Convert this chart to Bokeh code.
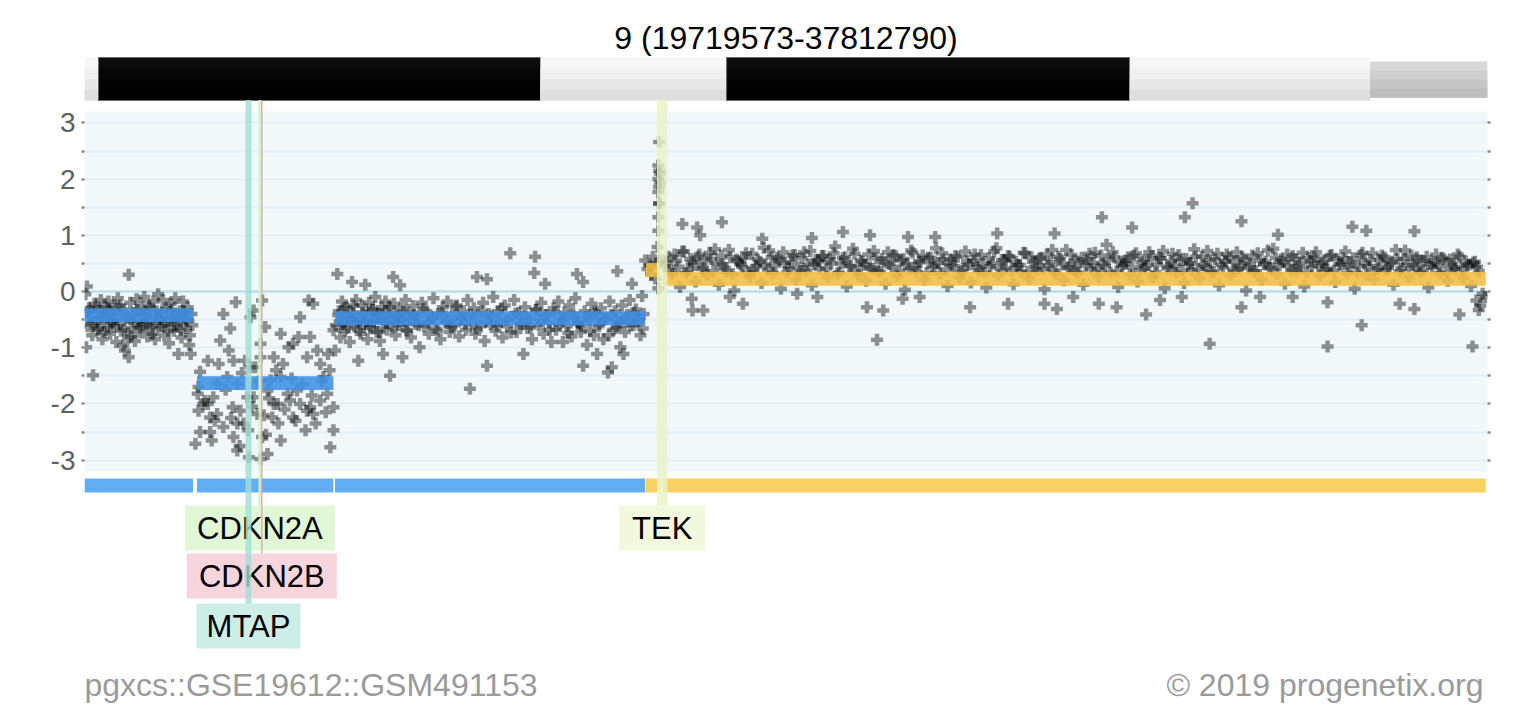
from bokeh.plotting import figure
from bokeh.models import Range1d, FixedTicker, LinearAxis, Grid, Span, Label
from bokeh.core.properties import value
from bokeh.embed import file_html
from bokeh.resources import INLINE

# ---------------------------------------------------------------- data
CHROM = "9"
START = 19719573
END = 37812790
SAMPLE_ID = "pgxcs::GSE19612::GSM491153"
CREDIT = "\u00a9 2019 progenetix.org"

# cytobands of the shown region (Mb)
band_start = [19.7196, 19.9, 25.6, 28.0, 33.2, 36.3]
band_end = [19.9, 25.6, 28.0, 33.2, 36.3, 37.8128]
band_stain = ["gneg", "gpos100", "gneg", "gpos100", "gneg", "gpos25"]

# CNV segments (Mb, log2 mean)
seg_start = [19.72, 21.17, 22.95, 26.96, 27.18]
seg_end = [21.12, 22.93, 26.95, 27.14, 37.79]
seg_mean = [-0.42, -1.63, -0.475, 0.38, 0.225]

# annotated genes (Mb)
gene_name = ["CDKN2A", "CDKN2B", "MTAP", "TEK"]
gene_start = [21.967751, 22.002902, 21.802543, 27.109141]
gene_end = [21.995300, 22.009312, 21.865970, 27.230174]

# probe log2 ratios, segment 1 (pter side, mild loss)
pos_a = [19.73, 19.74, 19.75, 19.76, 19.78, 19.80, 19.82, 19.83, 19.85, 19.87,
         19.89, 19.91, 19.93, 19.95, 19.97, 19.99, 20.01, 20.03, 20.05, 20.07,
         20.09, 20.11, 20.13, 20.15, 20.17, 20.19, 20.21, 20.22, 20.24, 20.26,
         20.28, 20.29, 20.29, 20.31, 20.33, 20.35, 20.37, 20.39, 20.41, 20.43,
         20.45, 20.47, 20.49, 20.51, 20.53, 20.55, 20.57, 20.59, 20.61, 20.63,
         20.65, 20.67, 20.69, 20.71, 20.73, 20.75, 20.77, 20.79, 20.81, 20.83,
         20.85, 20.87, 20.89, 20.91, 20.93, 20.95, 20.97, 20.99, 21.01, 21.03,
         21.05, 21.07, 21.09, 21.10, 21.11,
         19.77, 19.81, 19.86, 19.90, 19.94, 19.98, 20.02, 20.06, 20.10, 20.14,
         20.18, 20.23, 20.27, 20.32, 20.36, 20.40, 20.44, 20.48, 20.52, 20.56,
         20.60, 20.64, 20.68, 20.72, 20.76, 20.80, 20.84, 20.88, 20.92, 20.96,
         21.00, 21.04, 21.08]
lr_a = [-0.05, -0.99, 0.09, -0.62, -0.30, -0.45, -0.78, -1.49, -0.22, -0.55,
        -0.68, -0.35, -0.15, -0.85, -0.48, -0.28, -0.62, -0.18, -0.75, -0.40,
        -0.55, -0.25, -0.90, -0.12, -0.58, -0.70, -0.32, -0.96, -1.05, -0.45,
        -0.82, 0.30, -1.17, -0.20, -0.65, -0.38, -0.88, -0.14, -0.52, -0.72,
        -0.28, -0.60, -0.10, -0.42, -0.80, -0.25, -0.55, -0.66, -0.18, -0.85,
        -0.35, -0.05, -0.48, -0.62, -0.15, -0.78, -0.30, -0.52, -0.92, -0.22,
        -0.45, -0.70, -0.12, -0.58, -1.11, -0.35, -0.82, -0.18, -0.50, -0.65,
        -0.28, -0.95, -1.11, -0.40, -0.60,
        -0.35, -0.58, -0.28, -0.66, -0.45, -0.72, -0.30, -0.52, -0.62, -0.40,
        -0.25, -0.68, -0.48, -0.80, -0.55, -0.33, -0.64, -0.42, -0.58, -0.30,
        -0.75, -0.46, -0.62, -0.38, -0.55, -0.70, -0.32, -0.60, -0.45, -0.68,
        -0.36, -0.52, -0.78]

# segment 2 (deep loss around CDKN2A / CDKN2B / MTAP)
pos_b = [21.15, 21.18, 21.19, 21.19, 21.21, 21.21, 21.25, 21.27, 21.31, 21.31,
         21.34, 21.34, 21.36, 21.38, 21.40, 21.43, 21.43, 21.45, 21.47, 21.51,
         21.51, 21.54, 21.56, 21.58, 21.60, 21.61, 21.63, 21.64, 21.64, 21.67,
         21.69, 21.69, 21.69, 21.72, 21.73, 21.75, 21.77, 21.79, 21.82, 21.83,
         21.84, 21.86, 21.86, 21.88, 21.90, 21.90, 21.92, 21.95, 21.97, 21.99,
         21.99, 21.99, 22.01, 22.01, 22.03, 22.05, 22.06, 22.08, 22.08, 22.10,
         22.12, 22.14, 22.16, 22.16, 22.19, 22.21, 22.22, 22.25, 22.25, 22.25,
         22.28, 22.30, 22.34, 22.35, 22.37, 22.39, 22.41, 22.41, 22.44, 22.46,
         22.48, 22.50, 22.50, 22.53, 22.57, 22.59, 22.59, 22.61, 22.63, 22.63,
         22.65, 22.67, 22.67, 22.70, 22.72, 22.76, 22.76, 22.78, 22.80, 22.83,
         22.85, 22.86, 22.88, 22.89, 22.93, 22.93, 22.93]
lr_b = [-2.71, -1.82, -1.70, -2.12, -2.50, -1.43, -2.00, -1.95, -1.23, -2.00,
        -2.50, -2.24, -2.65, -1.88, -2.30, -2.18, -1.64, -1.29, -0.87, -2.41,
        -0.40, -1.75, -1.52, -1.05, -0.66, -2.25, -2.06, -1.23, -2.59, -0.19,
        -2.83, -2.35, -1.64, -2.75, -2.12, -1.45, -2.35, -1.23, -1.88, -2.47,
        -2.95, -0.46, -1.35, -2.05, -0.34, -1.88, -1.35, -2.18, -1.60, -1.17,
        -0.93, -2.98, -0.16, -2.59, -2.20, -0.63, -2.55, -2.89, -1.76, -1.90,
        -1.58, -2.24, -1.17, -2.00, -1.40, -2.00, -2.35, -2.65, -0.75, -1.52,
        -1.29, -2.10, -1.82, -0.99, -1.94, -1.55, -0.93, -2.24, -2.30, -1.76,
        -0.81, -0.46, -2.00, -1.65, -2.47, -1.17, -2.12, -0.16, -0.81, -2.06,
        -1.85, -0.22, -2.18, -2.35, -1.05, -1.29, -1.94, -1.60, -1.52, -2.15,
        -1.82, -1.11, -1.40, -2.77, -0.69, -2.06, -2.47]

# segment 3 (mild loss)
pos_c = [22.95, 22.96, 22.98, 23.00, 23.02, 23.04, 23.06, 23.08, 23.10, 23.12,
         23.14, 23.17, 23.18, 23.20, 23.22, 23.25, 23.26, 23.28, 23.30, 23.32,
         23.34, 23.35, 23.37, 23.39, 23.41, 23.43, 23.45, 23.47, 23.49, 23.51,
         23.53, 23.55, 23.57, 23.58, 23.60, 23.62, 23.64, 23.66, 23.68, 23.70,
         23.71, 23.73, 23.75, 23.77, 23.79, 23.80, 23.82, 23.84, 23.86, 23.88,
         23.90, 23.93, 23.96, 23.99, 24.02, 24.04, 24.07, 24.10, 24.13, 24.16,
         24.19, 24.22, 24.25, 24.28, 24.31, 24.34, 24.37, 24.40, 24.43, 24.46,
         24.49, 24.52, 24.55, 24.58, 24.61, 24.64, 24.66, 24.69, 24.71, 24.74,
         24.76, 24.78, 24.80, 24.83, 24.86, 24.88, 24.91, 24.91, 24.93, 24.96,
         24.99, 25.02, 25.05, 25.08, 25.11, 25.14, 25.17, 25.21, 25.23, 25.26,
         25.29, 25.32, 25.35, 25.38, 25.40, 25.43, 25.46, 25.49, 25.52, 25.53,
         25.55, 25.58, 25.61, 25.64, 25.66, 25.68, 25.71, 25.74, 25.77, 25.80,
         25.83, 25.86, 25.89, 25.91, 25.94, 25.97, 26.00, 26.03, 26.05, 26.07,
         26.09, 26.12, 26.15, 26.15, 26.17, 26.20, 26.23, 26.26, 26.29, 26.31,
         26.33, 26.35, 26.38, 26.41, 26.44, 26.47, 26.49, 26.52, 26.54, 26.56,
         26.59, 26.60, 26.63, 26.65, 26.67, 26.69, 26.72, 26.75, 26.78, 26.80,
         26.83, 26.86, 26.89, 26.91, 26.93,
         22.99, 23.03, 23.07, 23.11, 23.15, 23.19, 23.23, 23.27, 23.31, 23.36,
         23.40, 23.44, 23.48, 23.52, 23.56, 23.61, 23.65, 23.69, 23.74, 23.78,
         23.83, 23.87, 23.92, 23.97, 24.03, 24.09, 24.15, 24.21, 24.27, 24.33,
         24.39, 24.45, 24.51, 24.57, 24.63, 24.70, 24.77, 24.84, 24.90, 24.97,
         25.04, 25.10, 25.16, 25.22, 25.28, 25.34, 25.41, 25.47, 25.54, 25.60,
         25.66, 25.72, 25.78, 25.84, 25.90, 25.96, 26.02, 26.08, 26.13, 26.19,
         26.24, 26.30, 26.36, 26.42, 26.48, 26.53, 26.58, 26.64, 26.70, 26.76,
         26.81, 26.87, 26.92]
lr_c = [-1.05, -0.60, 0.31, -0.35, -0.82, -0.18, -0.55, -0.70, -0.28, -0.45,
        -0.90, 0.17, -0.38, -0.62, -0.15, -1.23, -0.50, -0.75, -0.25, -0.58,
        0.12, -0.42, -0.85, -0.20, -0.65, -0.32, -0.52, -0.10, -0.72, -0.40,
        -0.88, -0.28, -1.11, -0.55, -0.18, -0.68, -0.36, -1.50, -0.48, 0.26,
        -0.22, -0.78, -0.44, -0.60, 0.11, -0.30, -1.17, -0.52, -0.15, -0.70,
        -0.38, -0.82, -0.26, -0.58, -0.45, -0.99, -0.20, -0.62, -0.35, -0.75,
        -0.50, -0.12, -0.66, -0.40, -0.85, -0.28, -0.55, -0.18, -0.72, -0.42,
        -0.60, -0.25, -0.80, -0.48, -0.35, -0.68, -0.15, -1.73, -0.52, -0.30,
        -0.75, 0.26, -0.45, -0.62, -0.20, -0.88, 0.22, -1.32, -0.40, -0.58,
        -0.10, -0.70, -0.35, -0.52, -0.82, -0.25, -0.62, 0.68, -0.45, -0.15,
        -0.72, -0.38, -0.58, -1.11, -0.28, -0.65, -0.48, -0.85, 0.33, 0.62,
        -0.32, -0.60, -0.20, -0.75, 0.14, -0.42, -0.55, -0.90, -0.30, -0.68,
        -0.18, -0.50, -0.90, -0.38, -0.62, -0.25, -0.80, -0.45, -0.12, 0.31,
        -0.58, -0.72, 0.17, -1.32, -0.35, -0.95, -0.50, -0.22, -0.78, -0.40,
        -1.11, -0.62, -0.30, -0.85, -0.48, -1.44, -0.18, -1.35, -0.68, -0.35,
        0.36, -0.55, -0.99, -0.25, -1.11, -0.72, -0.42, -0.15, 0.14, -0.60,
        -0.32, -0.50, -0.78, -0.08, -0.40,
        -0.42, -0.58, -0.30, -0.65, -0.48, -0.25, -0.55, -0.70, -0.38, -0.52,
        -0.62, -0.33, -0.47, -0.72, -0.40, -0.56, -0.28, -0.64, -0.45, -0.53,
        -0.36, -0.68, -0.50, -0.42, -0.60, -0.31, -0.55, -0.46, -0.70, -0.38,
        -0.52, -0.63, -0.27, -0.48, -0.58, -0.41, -0.66, -0.35, -0.54, -0.44,
        -0.61, -0.30, -0.50, -0.73, -0.39, -0.57, -0.46, -0.64, -0.33, -0.52,
        -0.42, -0.68, -0.37, -0.59, -0.48, -0.74, -0.40, -0.55, -0.62, -0.45,
        -0.70, -0.36, -0.58, -0.50, -0.78, -0.43, -0.65, -0.55, -0.47, -0.60,
        -0.38, -0.52, -0.66]

# short gain segment next to TEK
pos_e = [26.95, 26.98, 27.01, 27.03, 27.05, 27.08, 27.10, 27.12, 27.11, 27.12,
         27.12, 27.13, 27.12, 27.13, 27.12, 27.13, 27.12, 27.13, 27.14, 27.14,
         27.13, 27.14]
lr_e = [0.55, 0.40, 0.46, 0.30, 0.62, 0.23, 0.50, 0.06, 0.79, 1.08,
        1.32, 1.56, 1.77, 1.86, 2.00, 2.15, 2.24, 2.66, 2.10, 1.94,
        1.57, 0.55]

# long low-level gain towards the centromere
pos_d = [27.20, 27.25, 27.30, 27.35, 27.40, 27.45, 27.50, 27.55, 27.60, 27.65,
         27.70, 27.75, 27.80, 27.85, 27.90, 27.95, 28.00, 28.05, 28.10, 28.15,
         28.20, 28.25, 28.30, 28.35, 28.40, 28.45, 28.50, 28.55, 28.60, 28.65,
         28.70, 28.75, 28.80, 28.85, 28.90, 28.95, 29.00, 29.05, 29.10, 29.15,
         29.20, 29.25, 29.30, 29.35, 29.40, 29.45, 29.50, 29.55, 29.60, 29.65,
         29.70, 29.75, 29.80, 29.85, 29.90, 29.95, 30.00, 30.05, 30.10, 30.15,
         30.20, 30.25, 30.30, 30.35, 30.40, 30.45, 30.50, 30.55, 30.60, 30.65,
         30.70, 30.75, 30.80, 30.85, 30.90, 30.95, 31.00, 31.05, 31.10, 31.15,
         31.20, 31.25, 31.30, 31.35, 31.40, 31.45, 31.50, 31.55, 31.60, 31.65,
         31.70, 31.75, 31.80, 31.85, 31.90, 31.95, 32.00, 32.05, 32.10, 32.15,
         32.20, 32.25, 32.30, 32.35, 32.40, 32.45, 32.50, 32.55, 32.60, 32.65,
         32.70, 32.75, 32.80, 32.85, 32.90, 32.95, 33.00, 33.05, 33.10, 33.15,
         33.20, 33.25, 33.30, 33.35, 33.40, 33.45, 33.50, 33.55, 33.60, 33.65,
         33.70, 33.75, 33.80, 33.85, 33.90, 33.95, 34.00, 34.05, 34.10, 34.15,
         34.20, 34.25, 34.30, 34.35, 34.40, 34.45, 34.50, 34.55, 34.60, 34.65,
         34.70, 34.75, 34.80, 34.85, 34.90, 34.95, 35.00, 35.05, 35.10, 35.15,
         35.20, 35.25, 35.30, 35.35, 35.40, 35.45, 35.50, 35.55, 35.60, 35.65,
         35.70, 35.75, 35.80, 35.85, 35.90, 35.95, 36.00, 36.05, 36.10, 36.15,
         36.20, 36.25, 36.30, 36.35, 36.40, 36.45, 36.50, 36.55, 36.60, 36.65,
         36.70, 36.75, 36.80, 36.85, 36.90, 36.95, 37.00, 37.05, 37.10, 37.15,
         37.20, 37.25, 37.30, 37.35, 37.40, 37.45, 37.50, 37.55, 37.60, 37.65,
         37.70]
lr_d = [0.45, 0.62, 0.31, 0.55, 0.08, 0.71, 0.38, 0.52, 0.18, 0.66,
        0.42, 0.29, 0.58, 0.75, 0.12, 0.49, 0.35, 0.61, 0.02, 0.54,
        0.44, 0.68, 0.27, 0.39, 0.57, 0.15, 0.48, 0.73, 0.33, 0.60,
        0.05, 0.51, 0.41, 0.64, 0.22, 0.36, 0.70, 0.47, 0.11, 0.56,
        0.40, 0.63, 0.26, 0.50, 0.80, 0.34, 0.59, 0.09, 0.46, 0.67,
        0.30, 0.53, 0.19, 0.43, 0.72, 0.37, 0.58, 0.14, 0.49, 0.65,
        0.28, 0.55, 0.03, 0.41, 0.69, 0.35, 0.52, 0.21, 0.60, 0.44,
        0.77, 0.32, 0.57, 0.10, 0.48, 0.63, 0.25, 0.40, 0.54, 0.16,
        0.66, 0.38, 0.50, 0.07, 0.45, 0.71, 0.29, 0.56, 0.42, 0.62,
        0.13, 0.47, 0.35, 0.68, 0.23, 0.53, 0.39, 0.60, 0.04, 0.46,
        0.74, 0.31, 0.58, 0.20, 0.43, 0.65, 0.36, 0.51, 0.12, 0.57,
        0.40, 0.69, 0.27, 0.49, 0.83, 0.34, 0.61, 0.08, 0.45, 0.55,
        0.30, 0.64, 0.18, 0.52, 0.41, 0.70, 0.26, 0.48, 0.59, 0.06,
        0.44, 0.67, 0.33, 0.56, 0.15, 0.50, 0.38, 0.62, 0.24, 0.47,
        0.72, 0.35, 0.58, 0.11, 0.43, 0.66, 0.29, 0.54, 0.40, 0.61,
        0.02, 0.49, 0.36, 0.68, 0.21, 0.53, 0.42, 0.76, 0.31, 0.57,
        0.14, 0.46, 0.63, 0.37, 0.51, 0.09, 0.60, 0.44, 0.70, 0.28,
        0.55, 0.39, 0.65, 0.17, 0.48, 0.59, 0.33, 0.52, 0.05, 0.45,
        0.69, 0.30, 0.56, 0.22, 0.42, 0.64, 0.38, 0.50, 0.12, 0.58,
        0.41, 0.73, 0.26, 0.47, 0.61, 0.34, 0.54, 0.07, 0.43, 0.66,
        0.32, 0.57, 0.19, 0.49, 0.40, 0.62, 0.25, 0.46, 0.10, 0.53,
        0.36]

# interleaved probes of the same gain segment
pos_d2 = [27.23, 27.28, 27.33, 27.38, 27.43, 27.48, 27.53, 27.58, 27.63, 27.68,
          27.73, 27.78, 27.83, 27.88, 27.93, 27.98, 28.03, 28.08, 28.13, 28.18,
          28.23, 28.28, 28.33, 28.38, 28.43, 28.48, 28.53, 28.58, 28.63, 28.68,
          28.73, 28.78, 28.83, 28.88, 28.93, 28.98, 29.03, 29.08, 29.13, 29.18,
          29.23, 29.28, 29.33, 29.38, 29.43, 29.48, 29.53, 29.58, 29.63, 29.68,
          29.73, 29.78, 29.83, 29.88, 29.93, 29.98, 30.03, 30.08, 30.13, 30.18,
          30.23, 30.28, 30.33, 30.38, 30.43, 30.48, 30.53, 30.58, 30.63, 30.68,
          30.73, 30.78, 30.83, 30.88, 30.93, 30.98, 31.03, 31.08, 31.13, 31.18,
          31.23, 31.28, 31.33, 31.38, 31.43, 31.48, 31.53, 31.58, 31.63, 31.68,
          31.73, 31.78, 31.83, 31.88, 31.93, 31.98, 32.03, 32.08, 32.13, 32.18,
          32.23, 32.28, 32.33, 32.38, 32.43, 32.48, 32.53, 32.58, 32.63, 32.68,
          32.73, 32.78, 32.83, 32.88, 32.93, 32.98, 33.03, 33.08, 33.13, 33.18,
          33.23, 33.28, 33.33, 33.38, 33.43, 33.48, 33.53, 33.58, 33.63, 33.68,
          33.73, 33.78, 33.83, 33.88, 33.93, 33.98, 34.03, 34.08, 34.13, 34.18,
          34.23, 34.28, 34.33, 34.38, 34.43, 34.48, 34.53, 34.58, 34.63, 34.68,
          34.73, 34.78, 34.83, 34.88, 34.93, 34.98, 35.03, 35.08, 35.13, 35.18,
          35.23, 35.28, 35.33, 35.38, 35.43, 35.48, 35.53, 35.58, 35.63, 35.68,
          35.73, 35.78, 35.83, 35.88, 35.93, 35.98, 36.03, 36.08, 36.13, 36.18,
          36.23, 36.28, 36.33, 36.38, 36.43, 36.48, 36.53, 36.58, 36.63, 36.68,
          36.73, 36.78, 36.83, 36.88, 36.93, 36.98, 37.03, 37.08, 37.13, 37.18,
          37.23, 37.28, 37.33, 37.38, 37.43, 37.48, 37.53, 37.58, 37.63, 37.68]
lr_d2 = [0.52, 0.38, 0.66, 0.44, 0.71, 0.33, 0.58, 0.47, 0.62, 0.40,
         0.55, 0.69, 0.36, 0.50, 0.64, 0.42, 0.74, 0.31, 0.57, 0.48,
         0.60, 0.35, 0.67, 0.45, 0.53, 0.78, 0.39, 0.61, 0.46, 0.56,
         0.70, 0.34, 0.51, 0.65, 0.43, 0.59, 0.37, 0.72, 0.49, 0.54,
         0.63, 0.41, 0.57, 0.68, 0.32, 0.50, 0.61, 0.45, 0.76, 0.38,
         0.55, 0.47, 0.66, 0.40, 0.59, 0.35, 0.52, 0.70, 0.44, 0.63,
         0.37, 0.58, 0.49, 0.73, 0.42, 0.54, 0.64, 0.33, 0.60, 0.46,
         0.51, 0.68, 0.39, 0.57, 0.45, 0.62, 0.36, 0.71, 0.48, 0.55,
         0.43, 0.65, 0.34, 0.59, 0.50, 0.77, 0.41, 0.56, 0.63, 0.38,
         0.53, 0.47, 0.69, 0.35, 0.61, 0.44, 0.58, 0.40, 0.66, 0.52,
         0.37, 0.62, 0.48, 0.74, 0.42, 0.55, 0.33, 0.60, 0.46, 0.67,
         0.51, 0.39, 0.64, 0.45, 0.57, 0.70, 0.36, 0.53, 0.49, 0.61,
         0.43, 0.68, 0.38, 0.56, 0.47, 0.63, 0.34, 0.59, 0.72, 0.41,
         0.54, 0.46, 0.65, 0.37, 0.58, 0.50, 0.75, 0.40, 0.62, 0.44,
         0.56, 0.35, 0.67, 0.48, 0.53, 0.61, 0.39, 0.70, 0.45, 0.57,
         0.42, 0.64, 0.36, 0.55, 0.49, 0.73, 0.41, 0.60, 0.47, 0.52,
         0.66, 0.38, 0.58, 0.44, 0.69, 0.35, 0.54, 0.62, 0.46, 0.51,
         0.40, 0.63, 0.37, 0.57, 0.48, 0.71, 0.43, 0.59, 0.34, 0.65,
         0.50, 0.45, 0.68, 0.39, 0.56, 0.61, 0.42, 0.53, 0.74, 0.36,
         0.58, 0.47, 0.64, 0.41, 0.55, 0.38, 0.62, 0.49, 0.52, 0.45,
         0.60, 0.35, 0.57, 0.43, 0.66, 0.40, 0.54, 0.48, 0.51, 0.44]

# scattered probes of the gain segment away from the main cloud
pos_f = [27.43, 27.62, 27.66, 27.94, 28.46, 29.10, 29.50, 29.85, 29.94, 30.34,
         30.69, 31.49, 32.23, 32.84, 33.23, 33.91, 34.01, 34.64, 35.11, 36.07,
         36.25, 36.87, 27.55, 27.56, 27.70, 28.04, 28.21, 28.91, 29.17, 29.81,
         30.02, 30.27, 30.49, 31.14, 31.63, 32.10, 32.26, 32.47, 32.80, 33.03,
         33.41, 33.59, 33.87, 34.23, 34.64, 34.88, 35.30, 35.75, 35.75, 36.19,
         36.68, 36.87, 37.45, 37.62, 37.67, 37.70, 37.72, 37.75, 37.78]
lr_f = [1.20, 1.14, 1.00, 1.23, 0.94, 0.95, 1.06, 1.00, -0.86, 0.97,
        0.97, 1.03, 1.03, 1.32, 1.14, 1.32, 1.57, 1.25, 1.01, 1.15,
        1.08, 1.07, -0.13, -0.34, -0.34, -0.10, -0.22, -0.04, -0.10, -0.28,
        -0.34, -0.13, -0.10, -0.28, -0.22, -0.22, -0.31, -0.10, -0.22, -0.28,
        -0.41, -0.15, -0.10, -0.93, -0.28, -0.10, -0.10, -0.98, -0.19, -0.60,
        -0.22, -0.31, -0.41, -0.98, -0.16, -0.33, -0.25, -0.04, -0.10]

# ---------------------------------------------------------------- layout
W, H = 1538, 712
LEFT, RIGHT = 84, 51
ZERO_PX, PX_PER_UNIT = 291, 56.2
FONT = "Liberation Sans"

x0, x1 = START / 1e6, END / 1e6
mb_per_px = (x1 - x0) / (W - LEFT - RIGHT)


def yv(py):
    """vertical page pixel -> log2 axis units"""
    return (ZERO_PX - py) / PX_PER_UNIT


p = figure(width=W, height=H, x_range=Range1d(x0, x1),
           y_range=Range1d(yv(H), yv(0)),
           x_axis_type=None, y_axis_type=None,
           toolbar_location=None, output_backend="svg",
           min_border_left=LEFT, min_border_right=RIGHT,
           min_border_top=0, min_border_bottom=0,
           outline_line_color=None,
           background_fill_color="white", border_fill_color="white")

# plot panel background
bg = p.quad(left=[x0], right=[x1], bottom=[yv(471)], top=[yv(111)],
            fill_color="#f2f7f9", line_color=None)
bg.level = "image"

major = [-3, -2, -1, 0, 1, 2, 3]
minor = [-2.5, -1.5, -0.5, 0.5, 1.5, 2.5]

p.add_layout(Grid(dimension=1, ticker=FixedTicker(ticks=major + minor),
                  grid_line_color="#e3eef6", grid_line_width=2))
p.add_layout(Span(location=0, dimension="width", line_color="#b0dde6",
                  line_width=2, level="underlay"))

for side, show in (("left", True), ("right", False)):
    ax = LinearAxis(ticker=FixedTicker(ticks=major, minor_ticks=minor),
                    axis_line_color=None,
                    major_tick_in=0, major_tick_out=3,
                    minor_tick_in=0, minor_tick_out=3,
                    major_tick_line_color="#8a8a8a", major_tick_line_width=2.5,
                    minor_tick_line_color="#8a8a8a", minor_tick_line_width=2.5,
                    major_label_standoff=6,
                    major_label_overrides={v: str(v) for v in major},
                    major_label_text_font=FONT,
                    major_label_text_font_size="28px",
                    major_label_text_color="#606060" if show else None)
    p.add_layout(ax, side)

# probes
for xs, ys in ((pos_a, lr_a), (pos_b, lr_b), (pos_c, lr_c), (pos_e, lr_e),
               (pos_d, lr_d), (pos_d2, lr_d2), (pos_f, lr_f)):
    p.scatter(xs, ys, marker="plus", size=12, fill_color="#000000",
              fill_alpha=0.42, line_color=None)

# segment means
seg_col = ["#3f91e6" if m < 0 else "#f4bd44" for m in seg_mean]
p.quad(left=seg_start, right=seg_end,
       bottom=[m - 0.124 for m in seg_mean], top=[m + 0.124 for m in seg_mean],
       fill_color=seg_col, fill_alpha=0.88, line_color=None)

# status track below the panel
trk_col = ["#63adf5" if m < 0 else "#f9d062" for m in seg_mean]
p.quad(left=seg_start, right=seg_end, bottom=yv(492), top=yv(478),
       fill_color=trk_col, line_color=None)

# cytoband ideogram, shaded top to bottom (each shade overlaps the next)
stain_shades = {"gneg": ["#f7f7f7", "#f0f0f0", "#e8e8e8", "#dedede"],
                "gpos25": ["#d8d8d8", "#cfcfcf", "#c6c6c6", "#bdbdbd"],
                "gpos100": ["#0c0c0c", "#070707", "#030303", "#000000"]}
for s, e, st in zip(band_start, band_end, band_stain):
    top_px, bot_px = (61, 97) if st == "gpos25" else (57, 100)
    shades = stain_shades[st]
    step = (bot_px - top_px) / len(shades)
    for i, c in enumerate(shades):
        p.quad(left=[s], right=[e], top=[yv(top_px + i * step)],
               bottom=[yv(bot_px)], fill_color=c, line_color=None)
    if st == "gpos100":
        p.quad(left=[s], right=[e], bottom=[yv(bot_px)], top=[yv(top_px)],
               fill_color=None, line_color="#6a6a6a", line_width=1)

# gene markers with labels
gene_row = [0, 1, 2, 0]
gene_box_half = [75, 75, 52, 43]
gene_line_col = ["#d3f3c6", "#ee9fae", "#9fdfd5", "#e8f3c4"]
gene_box_col = ["#e0f8d6", "#f6d5dd", "#cdeee7", "#f2f8dd"]
row_top_px = [505, 553, 603]
row_h_px = 45

for name, gs, ge, row, half, lc, bc in zip(gene_name, gene_start, gene_end,
                                           gene_row, gene_box_half,
                                           gene_line_col, gene_box_col):
    top_px = row_top_px[row]
    p.quad(left=[gs], right=[ge], bottom=[yv(top_px)], top=[yv(100)],
           fill_color=lc, fill_alpha=0.8, line_color=lc, line_alpha=0.8,
           line_width=1)
    cx = (gs + ge) / 2
    p.quad(left=[cx - half * mb_per_px], right=[cx + half * mb_per_px],
           bottom=[yv(top_px + row_h_px)], top=[yv(top_px)],
           fill_color=bc, line_color=None)
    p.text(x=[cx], y=[yv(top_px + row_h_px / 2)], text=[name],
           text_font=value(FONT), text_font_size="31px",
           text_color="#000000", text_align="center", text_baseline="middle")

# title and footer
p.add_layout(Label(x=(x0 + x1) / 2, y=yv(37),
                   text=f"{CHROM} ({START}-{END})",
                   text_font=FONT, text_font_size="32px", text_color="#000000",
                   text_align="center", text_baseline="middle"))
p.add_layout(Label(x=x0, y=yv(684), text=SAMPLE_ID,
                   text_font=FONT, text_font_size="32px", text_color="#9a9a9a",
                   text_align="left", text_baseline="middle"))
p.add_layout(Label(x=x1, y=yv(684), x_offset=-4, text=CREDIT,
                   text_font=FONT, text_font_size="32px", text_color="#9a9a9a",
                   text_align="right", text_baseline="middle"))

open("out.html", "w").write(file_html(p, INLINE))
